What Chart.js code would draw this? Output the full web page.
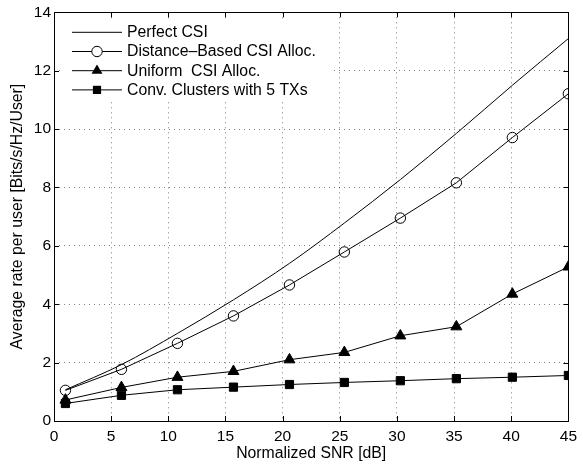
<!DOCTYPE html>
<html>
<head>
<meta charset="utf-8">
<script src="https://cdn.jsdelivr.net/npm/chart.js@4.4.1/dist/chart.umd.min.js"></script>
<style>
  html, body { margin: 0; padding: 0; background: #fff; }
  #wrap { width: 583px; height: 467px; }
</style>
</head>
<body>
<div id="wrap"><canvas id="rateChart"></canvas></div>
<script>
// values
const snrDb = [1, 5.9, 10.8, 15.7, 20.6, 25.4, 30.3, 35.2, 40.1, 45];
const perfectCsi = [1.07, 1.93, 3.0, 4.15, 5.4, 6.78, 8.27, 9.85, 11.5, 13.1];
const distanceCsi = [1.05, 1.77, 2.66, 3.6, 4.66, 5.79, 6.95, 8.16, 9.71, 11.21];
const uniformCsi = [0.72, 1.15, 1.5, 1.7, 2.1, 2.35, 2.92, 3.23, 4.35, 5.28];
const convClusters = [0.6, 0.88, 1.07, 1.16, 1.25, 1.32, 1.38, 1.45, 1.5, 1.56];

const seriesNames = ['Perfect CSI', 'Distance\u2013Based CSI Alloc.', 'Uniform  CSI Alloc.', 'Conv. Clusters with 5 TXs'];
const xTicks = [0, 5, 10, 15, 20, 25, 30, 35, 40, 45];
const yTicks = [0, 2, 4, 6, 8, 10, 12, 14];

const FONT = "'Liberation Sans', Arial, Helvetica, sans-serif";

function toPoints(ys) {
    return snrDb.map((x, i) => ({ x: x, y: ys[i] }));
}

// box round the axes with inward ticks on all four sides
const framePlugin = {
    id: 'frame',
    afterDraw(chart) {
        const ctx = chart.ctx;
        const a = chart.chartArea;
        const xs = chart.scales.x;
        const ys = chart.scales.y;
        const len = 5;
        ctx.save();
        ctx.strokeStyle = '#000';
        ctx.lineWidth = 1;
        ctx.beginPath();
        xTicks.forEach(v => {
            const px = Math.round(xs.getPixelForValue(v)) + 0.5;
            ctx.moveTo(px, a.bottom); ctx.lineTo(px, a.bottom - len);
            ctx.moveTo(px, a.top); ctx.lineTo(px, a.top + len);
        });
        yTicks.forEach(v => {
            const py = Math.round(ys.getPixelForValue(v)) + 0.5;
            ctx.moveTo(a.left, py); ctx.lineTo(a.left + len, py);
            ctx.moveTo(a.right, py); ctx.lineTo(a.right - len, py);
        });
        ctx.stroke();
        ctx.strokeRect(Math.round(a.left) + 0.5, Math.round(a.top) + 0.5,
            Math.round(a.right - a.left), Math.round(a.bottom - a.top));
        ctx.restore();
    }
};

// legend in the upper left corner of the plot
const legendPlugin = {
    id: 'innerLegend',
    afterDatasetsDraw(chart) {
        const ctx = chart.ctx;
        const a = chart.chartArea;
        const x0 = a.left + 18, y0 = a.top + 20, rowH = 19.2;
        ctx.save();
        ctx.fillStyle = '#fff';
        ctx.fillRect(a.left + 10, a.top + 8, 266, 80);
        chart.data.datasets.forEach((ds, i) => {
            const y = y0 + i * rowH;
            ctx.strokeStyle = '#000';
            ctx.lineWidth = 1;
            ctx.beginPath();
            ctx.moveTo(x0, y);
            ctx.lineTo(x0 + 50, y);
            ctx.stroke();
            const cx = x0 + 25;
            ctx.fillStyle = '#000';
            if (ds.pointStyle === 'circle' && ds.pointRadius > 0) {
                ctx.beginPath();
                ctx.arc(cx, y, ds.pointRadius, 0, Math.PI * 2);
                ctx.fillStyle = '#fff';
                ctx.fill();
                ctx.stroke();
            } else if (ds.pointStyle === 'triangle') {
                const r = ds.pointRadius;
                ctx.beginPath();
                ctx.moveTo(cx, y - r);
                ctx.lineTo(cx + r * 0.866, y + r / 2);
                ctx.lineTo(cx - r * 0.866, y + r / 2);
                ctx.closePath();
                ctx.fill();
            } else if (ds.pointStyle === 'rect') {
                const s = ds.pointRadius * Math.SQRT1_2;
                ctx.fillRect(cx - s, y - s, 2 * s, 2 * s);
            }
            ctx.fillStyle = '#000';
            ctx.font = '15.8px ' + FONT;
            ctx.textBaseline = 'middle';
            ctx.textAlign = 'left';
            ctx.fillText(ds.label, x0 + 55, y + 0.5);
        });
        ctx.restore();
    }
};

const ctx = document.getElementById('rateChart').getContext('2d');
const chart = new Chart(ctx, {
    type: 'scatter',
    data: {
        datasets: [{
            label: seriesNames[0],
            data: toPoints(perfectCsi),
            showLine: true,
            borderColor: '#000',
            borderWidth: 1,
            pointRadius: 0,
            pointStyle: 'line',
            cubicInterpolationMode: 'monotone'
        }, {
            label: seriesNames[1],
            data: toPoints(distanceCsi),
            showLine: true,
            borderColor: '#000',
            borderWidth: 1,
            pointStyle: 'circle',
            pointRadius: 5.2,
            pointBackgroundColor: 'rgba(255,255,255,0)',
            pointBorderColor: '#000',
            pointBorderWidth: 1
        }, {
            label: seriesNames[2],
            data: toPoints(uniformCsi),
            showLine: true,
            borderColor: '#000',
            borderWidth: 1,
            pointStyle: 'triangle',
            pointRadius: 6.3,
            pointBackgroundColor: '#000',
            pointBorderColor: '#000',
            pointBorderWidth: 1
        }, {
            label: seriesNames[3],
            data: toPoints(convClusters),
            showLine: true,
            borderColor: '#000',
            borderWidth: 1,
            pointStyle: 'rect',
            pointRadius: 5.8,
            pointBackgroundColor: '#000',
            pointBorderColor: '#000',
            pointBorderWidth: 1
        }]
    },
    options: {
        responsive: true,
        maintainAspectRatio: false,
        animation: false,
        layout: { padding: { top: 12, right: 11, left: 0, bottom: 0 } },
        plugins: {
            legend: { display: false },
            tooltip: { enabled: false }
        },
        scales: {
            x: {
                type: 'linear',
                min: 0,
                max: 45,
                afterBuildTicks: scale => { scale.ticks = xTicks.map(v => ({ value: v })); },
                afterFit: scale => { scale.height = 46; },
                grid: { color: 'rgba(0,0,0,0.5)', drawTicks: false },
                border: { display: false, dash: [1, 4] },
                ticks: { color: '#000', padding: 6, font: { family: FONT, size: 15.5 }, maxRotation: 0 },
                title: {
                    display: true,
                    text: 'Normalized SNR [dB]',
                    color: '#000',
                    font: { family: FONT, size: 15.8 },
                    padding: { top: 0, bottom: 4 }
                }
            },
            y: {
                type: 'linear',
                min: 0,
                max: 14,
                afterBuildTicks: scale => { scale.ticks = yTicks.map(v => ({ value: v })); },
                afterFit: scale => { scale.width = 54; },
                grid: { color: 'rgba(0,0,0,0.5)', drawTicks: false },
                border: { display: false, dash: [1, 4] },
                ticks: { color: '#000', padding: 3, font: { family: FONT, size: 15.5 } },
                title: {
                    display: true,
                    text: 'Average rate per user [Bits/s/Hz/User]',
                    color: '#000',
                    font: { family: FONT, size: 15.8 },
                    padding: { top: 8, bottom: 0 }
                }
            }
        }
    },
    plugins: [legendPlugin, framePlugin]
});
</script>
</body>
</html>
